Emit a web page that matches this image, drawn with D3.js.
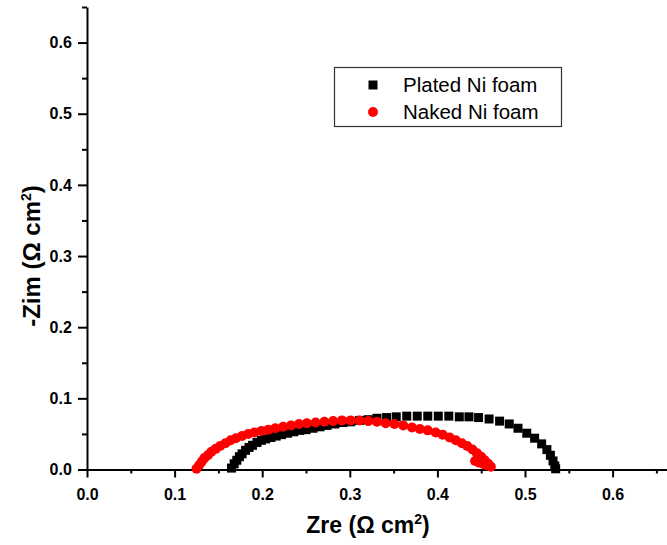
<!DOCTYPE html>
<html>
<head>
<meta charset="utf-8">
<script src="https://cdnjs.cloudflare.com/ajax/libs/d3/7.8.5/d3.min.js"></script>
<style>
  body { margin: 0; background: #fff; }
  text { font-family: "Liberation Sans", Arial, sans-serif; }
</style>
</head>
<body>
<div id="chart"></div>
<script>
// Plated Ni foam (black squares)
const platedZre = [0.165, 0.168, 0.171, 0.174, 0.177, 0.181, 0.185, 0.189, 0.194, 0.199,
    0.204, 0.210, 0.216, 0.222, 0.229, 0.236, 0.243, 0.250, 0.258, 0.266,
    0.274, 0.283, 0.292, 0.301, 0.311, 0.321, 0.331, 0.342, 0.353, 0.365,
    0.377, 0.389, 0.401, 0.413, 0.425, 0.436, 0.447, 0.459, 0.471, 0.482,
    0.492, 0.502, 0.511, 0.519, 0.525, 0.529, 0.532, 0.534, 0.535];
const platedZim = [0.002, 0.008, 0.013, 0.018, 0.022, 0.027, 0.031, 0.034, 0.038, 0.041,
    0.043, 0.045, 0.047, 0.049, 0.051, 0.053, 0.055, 0.056, 0.058, 0.060,
    0.062, 0.064, 0.066, 0.067, 0.069, 0.070, 0.072, 0.073, 0.074, 0.075,
    0.075, 0.075, 0.075, 0.075, 0.074, 0.074, 0.073, 0.071, 0.068, 0.064,
    0.058, 0.051, 0.044, 0.036, 0.028, 0.020, 0.012, 0.005, 0.001];

// Naked Ni foam (red circles)
const nakedZre = [0.125, 0.128, 0.131, 0.134, 0.138, 0.142, 0.147, 0.152, 0.158, 0.164,
    0.170, 0.177, 0.184, 0.191, 0.199, 0.207, 0.215, 0.224, 0.233, 0.242,
    0.251, 0.261, 0.271, 0.281, 0.291, 0.301, 0.311, 0.321, 0.331, 0.341,
    0.351, 0.361, 0.371, 0.380, 0.389, 0.398, 0.406, 0.414, 0.421, 0.428,
    0.434, 0.440, 0.445, 0.450, 0.454, 0.458, 0.461, 0.443, 0.447, 0.452, 0.456];
const nakedZim = [0.001, 0.006, 0.011, 0.016, 0.020, 0.025, 0.029, 0.033, 0.037, 0.041,
    0.044, 0.047, 0.050, 0.052, 0.054, 0.056, 0.058, 0.060, 0.062, 0.064,
    0.065, 0.066, 0.067, 0.068, 0.069, 0.069, 0.069, 0.068, 0.067, 0.065,
    0.064, 0.062, 0.059, 0.057, 0.055, 0.052, 0.049, 0.045, 0.041, 0.037,
    0.033, 0.028, 0.023, 0.018, 0.013, 0.008, 0.004, 0.012, 0.010, 0.008, 0.006];

const majorTicks = [0.0, 0.1, 0.2, 0.3, 0.4, 0.5, 0.6];
const minorTicks = [0.05, 0.15, 0.25, 0.35, 0.45, 0.55, 0.65];
const seriesNames = ["Plated Ni foam", "Naked Ni foam"];

const width = 667, height = 545;
const svg = d3.select("#chart").append("svg")
    .attr("width", width)
    .attr("height", height);

// scales (x axis runs off the right edge like the original)
let x = d3.scaleLinear().domain([0, 0.67]).range([87, 87 + 0.67 * 876]);
let y = d3.scaleLinear().domain([0, 0.65]).range([469.5, 7]);

const fmt = d3.format(".1f");

// x axis
let gx = svg.append("g").attr("transform", `translate(0,${y(0)})`);
gx.call(d3.axisBottom(x).tickValues(majorTicks).tickFormat(fmt).tickSize(8).tickSizeOuter(0));
gx.append("g").call(d3.axisBottom(x).tickValues(minorTicks).tickFormat("").tickSize(4).tickSizeOuter(0))
    .select(".domain").remove();

// y axis
let gy = svg.append("g").attr("transform", `translate(${x(0)},0)`);
gy.call(d3.axisLeft(y).tickValues(majorTicks).tickFormat(fmt).tickSize(9).tickSizeOuter(0));
gy.append("g").call(d3.axisLeft(y).tickValues(minorTicks).tickFormat("").tickSize(5).tickSizeOuter(0))
    .select(".domain").remove();

svg.selectAll(".domain").attr("stroke", "#000").attr("stroke-width", 2);
svg.selectAll(".tick line").attr("stroke", "#000").attr("stroke-width", 2);
svg.selectAll(".tick text")
    .attr("fill", "#000")
    .style("font-size", "16px")
    .style("font-weight", "bold");
gx.selectAll(".tick text").attr("dy", "1.2em");
gy.selectAll(".tick text").attr("dx", "-0.2em");

// axis titles
let xt = svg.append("text")
    .attr("x", 368).attr("y", 533)
    .attr("text-anchor", "middle")
    .style("font-size", "23px").style("font-weight", "bold");
xt.append("tspan").text("Zre (\u03A9 cm");
xt.append("tspan").text("2").attr("dy", "-9").style("font-size", "14px");
xt.append("tspan").text(")").attr("dy", "9");

let yt = svg.append("text")
    .attr("transform", "translate(40,256) rotate(-90)")
    .attr("text-anchor", "middle")
    .style("font-size", "24px").style("font-weight", "bold");
yt.append("tspan").text("-Zim (\u03A9 cm");
yt.append("tspan").text("2").attr("dy", "-9").style("font-size", "14px");
yt.append("tspan").text(")").attr("dy", "9");

// data
const plated = platedZre.map((v, i) => ({ zre: v, zim: platedZim[i] }));
const naked = nakedZre.map((v, i) => ({ zre: v, zim: nakedZim[i] }));

svg.append("g").selectAll("rect")
    .data(plated)
    .join("rect")
    .attr("x", d => x(d.zre) - 4.5)
    .attr("y", d => y(d.zim) - 4.5)
    .attr("width", 9)
    .attr("height", 9)
    .attr("fill", "#000");

svg.append("g").selectAll("circle")
    .data(naked)
    .join("circle")
    .attr("cx", d => x(d.zre))
    .attr("cy", d => y(d.zim))
    .attr("r", 5)
    .attr("fill", "#f00");

// legend
let lg = svg.append("g");
lg.append("rect")
    .attr("x", 334.5).attr("y", 67.5)
    .attr("width", 227).attr("height", 59)
    .attr("fill", "#fff").attr("stroke", "#333").attr("stroke-width", 1.2);
lg.append("rect").attr("x", 368.5).attr("y", 80.5).attr("width", 9).attr("height", 9).attr("fill", "#000");
lg.append("circle").attr("cx", 373).attr("cy", 112).attr("r", 5).attr("fill", "#f00");
lg.selectAll(".lab")
    .data(seriesNames)
    .join("text")
    .attr("class", "lab")
    .attr("x", 403)
    .attr("y", (d, i) => 92 + i * 27)
    .style("font-size", "20.5px")
    .attr("fill", "#000")
    .text(d => d);
</script>
</body>
</html>
